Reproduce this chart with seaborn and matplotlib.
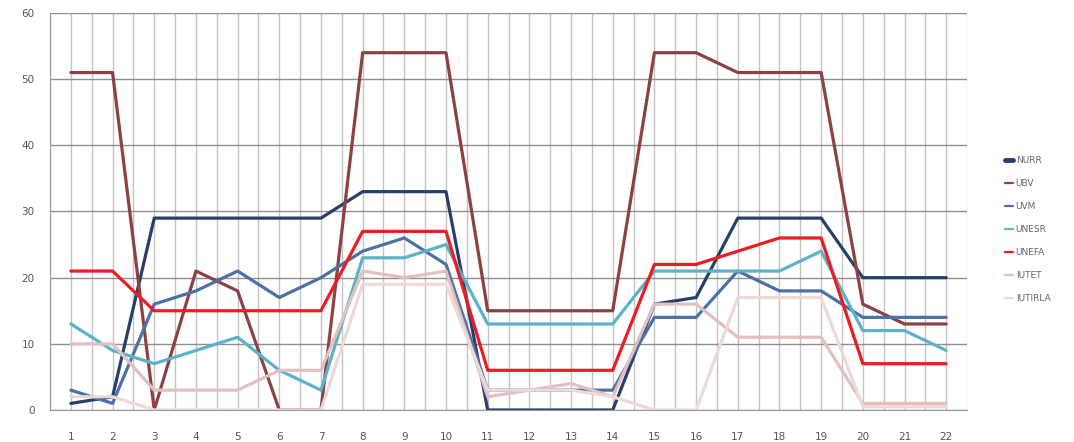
import pandas as pd
import matplotlib.pyplot as plt
import seaborn as sns
from matplotlib.ticker import MultipleLocator

# ------------ DATA ------------
categorias = list(range(1, 23))

nurr = [1, 2, 29, 29, 29, 29, 29, 33, 33, 33, 0, 0, 0, 0, 16, 17, 29, 29, 29, 20, 20, 20]
ubv = [51, 51, 0, 21, 18, 0, 0, 54, 54, 54, 15, 15, 15, 15, 54, 54, 51, 51, 51, 16, 13, 13]
uvm = [3, 1, 16, 18, 21, 17, 20, 24, 26, 22, 3, 3, 3, 3, 14, 14, 21, 18, 18, 14, 14, 14]
unesr = [13, 9, 7, 9, 11, 6, 3, 23, 23, 25, 13, 13, 13, 13, 21, 21, 21, 21, 24, 12, 12, 9]
unefa = [21, 21, 15, 15, 15, 15, 15, 27, 27, 27, 6, 6, 6, 6, 22, 22, 24, 26, 26, 7, 7, 7]
iutet = [10, 10, 3, 3, 3, 6, 6, 21, 20, 21, 2, 3, 4, 2, 16, 16, 11, 11, 11, 1, 1, 1]
iutirla = [2, 2, 0, 0, 0, 0, 0, 19, 19, 19, 3, 3, 3, 2, 0, 0, 17, 17, 17, 0.5, 0.5, 0.5]

series = {
    "NURR": nurr,
    "UBV": ubv,
    "UVM": uvm,
    "UNESR": unesr,
    "UNEFA": unefa,
    "IUTET": iutet,
    "IUTIRLA": iutirla,
}

colores = {
    "NURR": "#27406b",
    "UBV": "#8c4244",
    "UVM": "#4d71a6",
    "UNESR": "#5cb2c9",
    "UNEFA": "#ec1c24",
    "IUTET": "#e3bfc1",
    "IUTIRLA": "#eed9d9",
}

# long form table for seaborn
df = pd.concat(
    [pd.DataFrame({"x": categorias, "valor": v, "serie": k}) for k, v in series.items()],
    ignore_index=True,
)

# ------------ PLOT ------------
sns.set_style("white")
fig = plt.figure(figsize=(10.74, 4.42), dpi=100)
ax = fig.add_axes([0.0466, 0.0724, 0.8538, 0.8982])

sns.lineplot(
    data=df, x="x", y="valor", hue="serie", hue_order=list(series.keys()),
    palette=colores, linewidth=2.3, sort=False, ax=ax, legend=False,
)

ax.set_xlim(0.5, 22.5)
ax.set_ylim(0, 60)
ax.set_xticks(categorias)
ax.set_xticklabels([str(c) for c in categorias])
ax.xaxis.set_minor_locator(MultipleLocator(1.0, offset=0.5))
ax.yaxis.set_major_locator(MultipleLocator(10))

ax.grid(axis="y", which="major", color="#8f8f8f", linewidth=1.0)
ax.grid(axis="x", which="both", color="#c4c4c4", linewidth=1.0)
ax.set_axisbelow(True)

for s in ["top", "right"]:
    ax.spines[s].set_visible(False)
ax.spines["left"].set_color("#9a9a9a")
ax.spines["bottom"].set_color("#9a9a9a")

ax.tick_params(axis="x", which="major", length=6, color="#c4c4c4", width=1,
               pad=10, labelsize=7.5, labelcolor="#555555")
ax.tick_params(axis="x", which="minor", length=6, color="#c4c4c4", width=1)
ax.tick_params(axis="y", which="major", length=5, color="#9a9a9a", pad=6,
               labelsize=7.5, labelcolor="#555555")
ax.set_xlabel("")
ax.set_ylabel("")

# legend on the right side, like the original
handles = [
    plt.Line2D([], [], color=colores[k], linewidth=3.5 if k == "NURR" else 1.6)
    for k in series
]
fig.legend(
    handles, list(series.keys()), loc="upper left", bbox_to_anchor=(0.928, 0.665),
    frameon=False, fontsize=6.5, handlelength=0.9, handletextpad=0.3,
    labelspacing=1.55, labelcolor="#666666",
)

plt.savefig("out.png", dpi=100)
plt.close()
